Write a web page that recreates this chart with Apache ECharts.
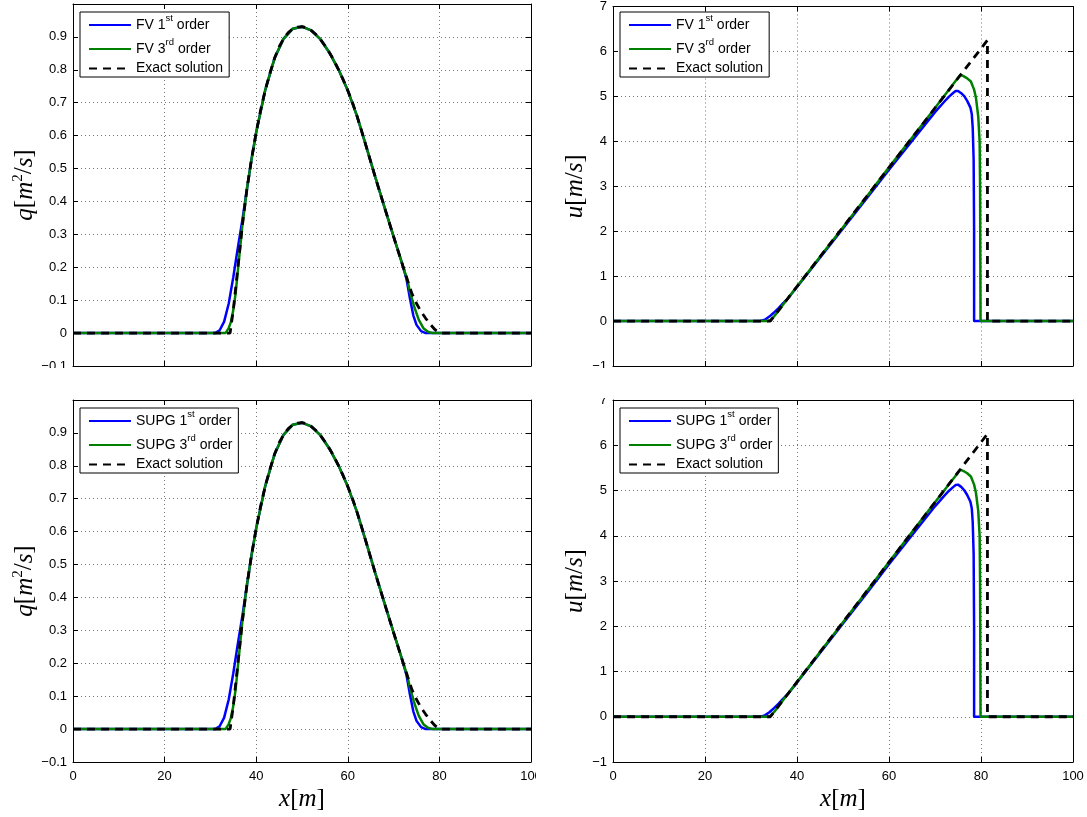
<!DOCTYPE html>
<html><head><meta charset="utf-8">
<script src="https://cdn.jsdelivr.net/npm/echarts@6/dist/echarts.min.js"></script>
<style>html,body{margin:0;padding:0;background:#fff}#c{width:1087px;height:817px}</style>
</head><body><div id="c"></div>
<script>
// ---------- tick settings ----------
const xTicks = [0, 20, 40, 60, 80, 100];
const qTicks = [-0.1, 0, 0.1, 0.2, 0.3, 0.4, 0.5, 0.6, 0.7, 0.8, 0.9];
const uTicks = [-1, 0, 1, 2, 3, 4, 5, 6, 7];

// ---------- q panels [x, q] ----------
const qExact = [[0,0],[34.3,0],[35,0.07],[36,0.2],[37,0.33],[38,0.44],[39,0.53],[40,0.61],[41,0.68],[42,0.74],[43,0.79],[44,0.835],[45,0.87],[46,0.895],[47,0.913],[48,0.925],[49,0.93],[50,0.931],[51,0.928],[52,0.92],[53,0.908],[54,0.893],[55,0.874],[56,0.852],[57,0.828],[58,0.8],[59,0.77],[60,0.737],[61,0.702],[62,0.66],[63,0.615],[64,0.568],[65,0.521],[66,0.474],[67,0.428],[68,0.383],[69,0.338],[70,0.293],[71,0.249],[72,0.205],[73,0.162],[74,0.12],[75,0.09],[76,0.065],[77,0.045],[78,0.027],[79,0.011],[80,0],[100,0]];
const qFV1 = [[0,0],[31,0],[32,0.008],[33,0.035],[34,0.09],[35,0.17],[36,0.26],[37,0.345],[38,0.44],[39,0.53],[40,0.61],[42,0.74],[44,0.835],[46,0.895],[48,0.925],[50,0.931],[52,0.92],[54,0.893],[56,0.852],[58,0.8],[60,0.737],[62,0.66],[64,0.568],[66,0.474],[68,0.383],[70,0.293],[72,0.205],[72.8,0.165],[73.5,0.11],[74.3,0.054],[75,0.025],[76,0.006],[77,0],[100,0]];
const qFV3 = [[0,0],[33.3,0],[34,0.015],[34.5,0.035],[35,0.07],[35.5,0.12],[36,0.19],[36.5,0.26],[37,0.33],[38,0.44],[39,0.53],[40,0.61],[42,0.74],[44,0.835],[46,0.895],[48,0.925],[50,0.931],[52,0.92],[54,0.893],[56,0.852],[58,0.8],[60,0.737],[62,0.66],[64,0.568],[66,0.474],[68,0.383],[70,0.293],[72,0.205],[73,0.162],[73.5,0.13],[74.5,0.08],[75.5,0.04],[76.5,0.015],[77.5,0.004],[78.5,0],[100,0]];
const qSUPG1 = [[0,0],[31,0],[32,0.008],[33,0.035],[34,0.09],[35,0.17],[36,0.26],[37,0.345],[38,0.44],[39,0.53],[40,0.61],[42,0.74],[44,0.835],[46,0.895],[48,0.925],[50,0.931],[52,0.92],[54,0.893],[56,0.852],[58,0.8],[60,0.737],[62,0.66],[64,0.568],[66,0.474],[68,0.383],[70,0.293],[72,0.205],[72.8,0.165],[73.5,0.11],[74.3,0.054],[75,0.025],[76,0.006],[77,0],[100,0]];
const qSUPG3 = [[0,0],[33.3,0],[34,0.015],[34.5,0.035],[35,0.07],[35.5,0.12],[36,0.19],[36.5,0.26],[37,0.33],[38,0.44],[39,0.53],[40,0.61],[42,0.74],[44,0.835],[46,0.895],[48,0.925],[50,0.931],[52,0.92],[54,0.893],[56,0.852],[58,0.8],[60,0.737],[62,0.66],[64,0.568],[66,0.474],[68,0.383],[70,0.293],[72,0.205],[73,0.162],[73.5,0.13],[74.5,0.08],[75.5,0.04],[76.5,0.015],[77.5,0.004],[78.5,0],[100,0]];

// ---------- u panels [x, u] ----------
const uExact = [[0,0],[34.2,0],[81.4,6.25],[81.4,0],[100,0]];
const uFV1 = [[0,0],[32,0],[33,0.03],[34,0.1],[35,0.19],[36,0.29],[37,0.4],[38,0.5],[40,0.76],[45,1.41],[50,2.06],[55,2.71],[60,3.37],[65,4.01],[70,4.65],[72,4.88],[73,4.99],[74,5.08],[74.5,5.12],[75,5.12],[75.7,5.07],[76.4,5.0],[77,4.9],[77.7,4.75],[78,4.6],[78.2,4.3],[78.4,3.6],[78.5,2.0],[78.5,0],[100,0]];
const uFV3 = [[0,0],[33.6,0],[34.2,0.02],[35,0.1],[36,0.23],[37,0.37],[40,0.77],[45,1.43],[50,2.09],[55,2.75],[60,3.42],[65,4.08],[70,4.74],[75.5,5.48],[76.2,5.45],[77,5.4],[77.8,5.33],[78.5,5.15],[78.9,4.97],[79.4,4.55],[79.7,4.0],[79.8,3.0],[79.85,1.5],[79.9,0],[100,0]];
const uSUPG1 = [[0,0],[32,0],[33,0.03],[34,0.1],[35,0.19],[36,0.29],[37,0.4],[38,0.5],[40,0.76],[45,1.41],[50,2.06],[55,2.71],[60,3.37],[65,4.01],[70,4.65],[72,4.88],[73,4.99],[74,5.08],[74.5,5.12],[75,5.13],[75.7,5.08],[76.4,5.0],[77,4.9],[77.7,4.75],[78,4.6],[78.2,4.3],[78.4,3.6],[78.5,2.0],[78.5,0],[100,0]];
const uSUPG3 = [[0,0],[33.6,0],[34.2,0.02],[35,0.1],[36,0.23],[37,0.37],[40,0.77],[45,1.43],[50,2.09],[55,2.75],[60,3.42],[65,4.08],[70,4.74],[75.5,5.46],[76.2,5.43],[77,5.38],[77.8,5.31],[78.5,5.13],[78.9,4.95],[79.4,4.55],[79.7,4.0],[79.8,3.0],[79.85,1.5],[79.9,0],[100,0]];

const NAMES_FV = ['FV 1st order', 'FV 3rd order', 'Exact solution'];
const NAMES_SUPG = ['SUPG 1st order', 'SUPG 3rd order', 'Exact solution'];

const FONT = 'Liberation Sans, Arial, Helvetica, sans-serif';
const SERIF = 'Liberation Serif, DejaVu Serif, serif';
const BLUE = '#0000ff', GREEN = '#008000', BLACK = '#000000';

const grids = [
  {left: 73, top: 4, width: 458, height: 362},
  {left: 613, top: 4, width: 460, height: 362},
  {left: 73, top: 400, width: 458, height: 362},
  {left: 613, top: 400, width: 460, height: 362}
];

const minus = s => String(s).replace('-', '\u2212');
const qFmt = v => { const r = Math.round(v * 10) / 10; return r > 0.95 ? '' : minus(r); };
const uFmt = v => minus(Math.round(v));

const nameRich = {
  i: {fontFamily: SERIF, fontStyle: 'italic', fontSize: 25, color: '#000'},
  s: {fontFamily: SERIF, fontSize: 15, color: '#000', padding: [0, 0, 13, 0]}
};

const xAxis = [], yAxis = [];
grids.forEach((g, k) => {
  const bottomRow = k >= 2;
  const isQ = k % 2 === 0;
  xAxis.push({
    type: 'value', gridIndex: k, min: xTicks[0], max: xTicks[xTicks.length - 1], interval: xTicks[1] - xTicks[0],
    position: 'bottom',
    axisLine: {show: true, onZero: false, lineStyle: {color: '#000', width: 1}},
    axisTick: {show: true, inside: true, length: 5, lineStyle: {color: '#000'}},
    axisLabel: {show: bottomRow, fontFamily: FONT, fontSize: 13, color: '#000', margin: 8},
    splitLine: {show: true, lineStyle: {color: '#777', type: [1, 3], width: 1}},
    name: bottomRow ? '{i|x}[{i|m}]' : '',
    nameLocation: 'middle', nameGap: 25,
    nameTextStyle: {fontFamily: SERIF, fontSize: 25, color: '#000', rich: nameRich}
  });
  xAxis.push({
    type: 'value', gridIndex: k, min: xTicks[0], max: xTicks[xTicks.length - 1], interval: xTicks[1] - xTicks[0],
    position: 'top',
    axisLine: {show: true, onZero: false, lineStyle: {color: '#000', width: 1}},
    axisTick: {show: true, inside: true, length: 5, lineStyle: {color: '#000'}},
    axisLabel: {show: false}, splitLine: {show: false}
  });
  const yMin = isQ ? qTicks[0] : uTicks[0];
  const yMax = isQ ? 1 : uTicks[uTicks.length - 1];
  const yInt = isQ ? 0.1 : 1;
  yAxis.push({
    type: 'value', gridIndex: k, min: yMin, max: yMax, interval: yInt, position: 'left',
    axisLine: {show: true, onZero: false, lineStyle: {color: '#000', width: 1}},
    axisTick: {show: true, inside: true, length: 5, lineStyle: {color: '#000'}},
    axisLabel: {fontFamily: FONT, fontSize: 13, color: '#000', margin: 6, formatter: isQ ? qFmt : uFmt},
    splitLine: {show: true, lineStyle: {color: '#777', type: [1, 3], width: 1}},
    name: isQ ? '{i|q}[{i|m}{s|2}/{i|s}]' : '{i|u}[{i|m}/{i|s}]',
    nameLocation: 'middle', nameRotate: 90, nameGap: isQ ? 29 : 25,
    nameTextStyle: {fontFamily: SERIF, fontSize: 25, color: '#000', rich: nameRich}
  });
  yAxis.push({
    type: 'value', gridIndex: k, min: yMin, max: yMax, interval: yInt, position: 'right',
    axisLine: {show: true, onZero: false, lineStyle: {color: '#000', width: 1}},
    axisTick: {show: true, inside: true, length: 5, lineStyle: {color: '#000'}},
    axisLabel: {show: false}, splitLine: {show: false}
  });
});

function line(name, data, k, color, width, dashed) {
  return {
    type: 'line', name, data, xAxisIndex: 2 * k, yAxisIndex: 2 * k,
    symbol: 'none', showSymbol: false, animation: false, silent: true,
    lineStyle: {color, width, type: dashed ? [8, 6] : 'solid'},
    itemStyle: {color}, z: dashed ? 4 : 3
  };
}

const series = [
  line(NAMES_FV[0], qFV1, 0, BLUE, 2.5), line(NAMES_FV[1], qFV3, 0, GREEN, 2.5), line(NAMES_FV[2], qExact, 0, BLACK, 2.8, true),
  line(NAMES_FV[0], uFV1, 1, BLUE, 2.5), line(NAMES_FV[1], uFV3, 1, GREEN, 2.5), line(NAMES_FV[2], uExact, 1, BLACK, 2.8, true),
  line(NAMES_SUPG[0], qSUPG1, 2, BLUE, 2.5), line(NAMES_SUPG[1], qSUPG3, 2, GREEN, 2.5), line(NAMES_SUPG[2], qExact, 2, BLACK, 2.8, true),
  line(NAMES_SUPG[0], uSUPG1, 3, BLUE, 2.5), line(NAMES_SUPG[1], uSUPG3, 3, GREEN, 2.5), line(NAMES_SUPG[2], uExact, 3, BLACK, 2.8, true)
];

function legend(names, left, top) {
  return {
    data: names, left, top, orient: 'vertical', selectedMode: false,
    backgroundColor: '#fff', borderColor: '#000', borderWidth: 1,
    padding: [1, 6, 1, 8], itemGap: 0, itemWidth: 42, itemHeight: 14,
    itemStyle: {opacity: 0, borderWidth: 0},
    textStyle: {fontFamily: FONT, fontSize: 14, color: '#000', lineHeight: 15,
      rich: {sup: {fontFamily: FONT, fontSize: 9.5, color: '#000', lineHeight: 24, verticalAlign: 'top'}}},
    formatter: n => n.replace(/(\d)(st|rd)/, '$1{sup|$2}'),
    z: 10
  };
}

const chart = echarts.init(document.getElementById('c'), null, {renderer: 'canvas'});
chart.setOption({
  animation: false,
  backgroundColor: '#fff',
  grid: grids,
  xAxis, yAxis, series,
  legend: [legend(NAMES_FV, 80, 12), legend(NAMES_FV, 620, 12), legend(NAMES_SUPG, 80, 408), legend(NAMES_SUPG, 620, 408)],
  graphic: [
    {type: 'rect', shape: {x: 0, y: 368, width: 1087, height: 30}, style: {fill: '#fff'}, z: 100},
    {type: 'rect', shape: {x: 536, y: 765, width: 40, height: 24}, style: {fill: '#fff'}, z: 100}
  ]
});
</script>
</body></html>
